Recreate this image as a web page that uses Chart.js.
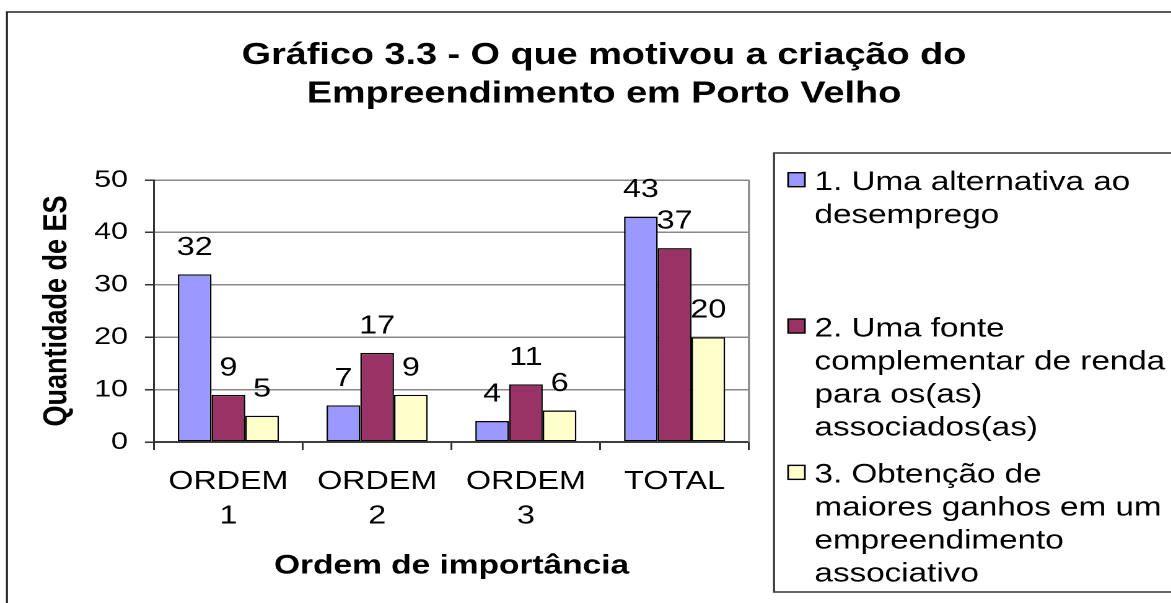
<!DOCTYPE html>
<html>
<head>
    <title>Gráfico 3.3</title>
    <script src="https://cdn.jsdelivr.net/npm/chart.js"></script>
    <style>
        body { margin: 0; background: #fff; overflow: hidden; }
        /* the original picture is stretched sideways, so the canvas is too */
        #wrap { position: absolute; left: 0; top: 0; width: 945px; height: 603px;
                transform: scaleX(1.2392); transform-origin: 0 0; }
    </style>
</head>
<body>
    <div id="wrap"><canvas id="chart"></canvas></div>

    <script>
        const categories = [['ORDEM', '1'], ['ORDEM', '2'], ['ORDEM', '3'], 'TOTAL'];
        const alternativaDesemprego = [32, 7, 4, 43];
        const fonteComplementar = [9, 17, 11, 37];
        const maioresGanhos = [5, 9, 6, 20];
        const legendLines = [
            ['1. Uma alternativa ao', 'desemprego'],
            ['2. Uma fonte', 'complementar de renda', 'para os(as)', 'associados(as)'],
            ['3. Obtenção de', 'maiores ganhos em um', 'empreendimento', 'associativo']
        ];
        const titleLines = ['Gráfico 3.3 - O que motivou a criação do', 'Empreendimento em Porto Velho'];
        const xTitle = 'Ordem de importância';
        const yTitle = 'Quantidade de ES';
        const yMin = 0, yMax = 50, yStep = 10;

        const FONT = '"Liberation Sans", Arial, sans-serif';
        const colors = ['#9999FF', '#993366', '#FFFFCC'];

        // outer frame, title and plot border
        const framePlugin = {
            id: 'framePlugin',
            beforeDraw(chart) {
                const ctx = chart.ctx;
                ctx.save();
                ctx.strokeStyle = '#222';
                ctx.lineWidth = 1.6;
                ctx.beginPath();
                ctx.moveTo(5.6, chart.height + 2);
                ctx.lineTo(5.6, 12);
                ctx.lineTo(chart.width + 2, 12);
                ctx.stroke();

                ctx.fillStyle = '#000';
                ctx.font = 'bold 30.5px ' + FONT;
                ctx.textAlign = 'center';
                ctx.textBaseline = 'alphabetic';
                titleLines.forEach((t, i) => ctx.fillText(t, 487.4, 64 + i * 38.5));
                ctx.restore();
            },
            beforeDatasetsDraw(chart) {
                const a = chart.chartArea, ctx = chart.ctx;
                ctx.save();
                ctx.strokeStyle = '#888';
                ctx.lineWidth = 1.6;
                ctx.beginPath();
                ctx.moveTo(a.right, a.top);
                ctx.lineTo(a.right, a.bottom);
                ctx.stroke();
                ctx.restore();
            }
        };

        // value labels above each bar
        const valueLabels = {
            id: 'valueLabels',
            afterDatasetsDraw(chart) {
                const ctx = chart.ctx;
                ctx.save();
                ctx.font = '26px ' + FONT;
                ctx.fillStyle = '#000';
                ctx.textAlign = 'center';
                ctx.textBaseline = 'alphabetic';
                chart.data.datasets.forEach((ds, i) => {
                    chart.getDatasetMeta(i).data.forEach((bar, j) => {
                        ctx.fillText(ds.data[j], bar.x, bar.y - 19.5);
                    });
                });
                ctx.restore();
            }
        };

        // boxed legend on the right, like the spreadsheet one
        const boxLegend = {
            id: 'boxLegend',
            afterDraw(chart) {
                const ctx = chart.ctx;
                const left = 624.6, top = 153, bottom = 592;
                ctx.save();
                ctx.strokeStyle = '#333';
                ctx.lineWidth = 1.6;
                ctx.beginPath();
                ctx.moveTo(chart.width + 2, top);
                ctx.lineTo(left, top);
                ctx.lineTo(left, bottom);
                ctx.lineTo(chart.width + 2, bottom);
                ctx.stroke();

                const slot = (bottom - top) / legendLines.length;
                ctx.font = '26.8px ' + FONT;
                ctx.textAlign = 'left';
                ctx.textBaseline = 'alphabetic';
                legendLines.forEach((lines, i) => {
                    const base = top + 37 + i * slot;
                    ctx.fillStyle = chart.data.datasets[i].backgroundColor;
                    ctx.fillRect(636, base - 17.3, 13.5, 14);
                    ctx.lineWidth = 1.4;
                    ctx.strokeStyle = '#000';
                    ctx.strokeRect(636, base - 17.3, 13.5, 14);
                    ctx.fillStyle = '#000';
                    lines.forEach((t, j) => ctx.fillText(t, 657.3, base + j * 33));
                });
                ctx.restore();
            }
        };

        const seriesData = [alternativaDesemprego, fonteComplementar, maioresGanhos];

        new Chart(document.getElementById('chart'), {
            type: 'bar',
            data: {
                labels: categories,
                datasets: seriesData.map((d, i) => ({
                    label: legendLines[i].join(' '),
                    data: d,
                    backgroundColor: colors[i],
                    borderColor: '#000',
                    borderWidth: 1.3,
                    borderSkipped: false,
                    barPercentage: 1,
                    categoryPercentage: 0.68
                }))
            },
            options: {
                responsive: true,
                maintainAspectRatio: false,
                animation: false,
                devicePixelRatio: 2,
                layout: { padding: { left: 0, top: 180, right: 340.6, bottom: 0 } },
                plugins: {
                    legend: { display: false },
                    tooltip: { enabled: false },
                    title: { display: false }
                },
                scales: {
                    x: {
                        grid: { offset: true, drawOnChartArea: false, tickLength: 8, color: '#333', lineWidth: 1.5 },
                        border: { color: '#404040', width: 2 },
                        ticks: {
                            color: '#000',
                            font: { family: FONT, size: 26, lineHeight: 1.31 },
                            padding: 15,
                            maxRotation: 0,
                            autoSkip: false
                        },
                        title: {
                            display: true,
                            text: xTitle,
                            color: '#000',
                            font: { family: FONT, size: 27, weight: 'bold' },
                            padding: { top: 0, bottom: 20.8 }
                        },
                        afterFit(s) { s.height = 161; }
                    },
                    y: {
                        min: yMin,
                        max: yMax,
                        ticks: {
                            stepSize: yStep,
                            color: '#000',
                            font: { family: FONT, size: 24.5 },
                            padding: 13.7
                        },
                        grid: { color: '#888', lineWidth: 1.5, tickLength: 7.3, tickColor: '#333' },
                        border: { color: '#333', width: 1.5 },
                        title: {
                            display: true,
                            text: yTitle,
                            color: '#000',
                            font: { family: FONT, size: 27, weight: 'bold' },
                            padding: { top: 29.8, bottom: 0 }
                        },
                        afterFit(s) { s.width = 124.3; }
                    }
                }
            },
            plugins: [framePlugin, valueLabels, boxLegend]
        });
    </script>
</body>
</html>
